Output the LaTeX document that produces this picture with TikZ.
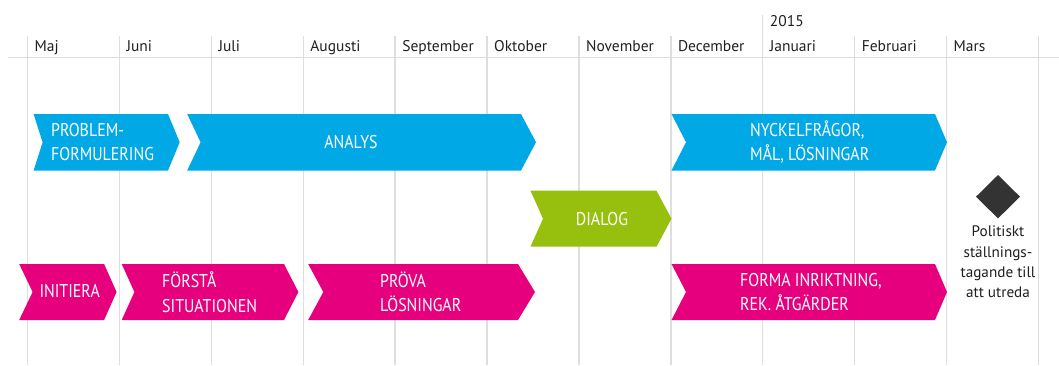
\documentclass[tikz,border=0pt]{standalone}
\usepackage{fontspec}
\setmainfont{PT Sans}
\newfontfamily\condfont[FakeStretch=0.86]{PT Sans}
\definecolor{cblue}{RGB}{0,168,230}
\definecolor{cpink}{RGB}{230,0,126}
\definecolor{cgreen}{RGB}{151,192,14}
\definecolor{cgrid}{RGB}{222,222,222}
\definecolor{cdark}{RGB}{51,51,51}
\definecolor{ctext}{RGB}{35,31,32}
\tikzset{
  gridline/.style={draw=cgrid, line width=1.4pt},
  month/.style={anchor=base west, inner sep=0pt, text=ctext, font=\fontsize{15.5}{17}\selectfont},
  boxlabel/.style={inner sep=0pt, text=white, align=left, font=\condfont\fontsize{18.5}{24.5}\selectfont},
  milestone/.style={inner sep=0pt, text=ctext, align=center, font=\fontsize{15.2}{20.3}\selectfont},
}
% chevron: #1 left x, #2 notch x, #3 right-top x, #4 tip x, #5 top y, #6 bottom y, #7 colour
\newcommand\mychevron[7]{%
  \fill[#7] (#1,#5) -- (#3,#5) -- (#4,{(#5+#6)/2}) -- (#3,#6) -- (#1,#6) -- (#2,{(#5+#6)/2}) -- cycle;}
\begin{document}
\begin{tikzpicture}[x=1pt,y=-1pt]
\useasboundingbox (0,0) rectangle (1059,365);
\fill[white] (0,0) rectangle (1059,365);
% grid
\foreach \i in {0,...,11}{
  \draw[gridline] ({27.5+91.9*\i},36) -- ({27.5+91.9*\i},365);
}
\draw[gridline] ({27.5+91.9*8},15) -- ({27.5+91.9*8},36);
\draw[gridline] (8,57.3) -- (1059,57.3);
% months
\foreach \m [count=\i from 0] in {Maj,Juni,Juli,Augusti,September,Oktober,November,December,Januari,Februari,Mars}{
  \node[month] (m\i) at ({27.5+91.9*\i+7},51) {\m};
}
\node[month] (year) at ({27.5+91.9*8+7},26.5) {2015};
% blue row
\mychevron{33.6}{42.6}{168}{179.7}{114}{170.5}{cblue}
\mychevron{187.2}{200.6}{521}{536}{114}{170.5}{cblue}
\mychevron{671.5}{686}{935}{947}{114}{170.5}{cblue}
\node[boxlabel, anchor=west] (prob) at (51,142) {PROBLEM-\\FORMULERING};
\node[boxlabel] (analys) at (351,142) {ANALYS};
\node[boxlabel, anchor=west] (nyckel) at (750,142) {NYCKELFRÅGOR,\\MÅL, LÖSNINGAR};
% green
\mychevron{530.5}{543}{656.5}{671.5}{190.7}{246.7}{cgreen}
\node[boxlabel] (dialog) at (602,218.7) {DIALOG};
% pink row
\mychevron{19.2}{32.6}{104.1}{116.6}{264}{320}{cpink}
\mychevron{121.7}{134.4}{284}{298.4}{264}{320}{cpink}
\mychevron{308.2}{323.3}{518}{535}{264}{320}{cpink}
\mychevron{671.5}{686}{935}{947}{264}{320}{cpink}
\node[boxlabel, anchor=west] (init) at (39.3,291.5) {INITIERA};
\node[boxlabel, anchor=west] (forsta) at (162,292) {FÖRSTÅ\\SITUATIONEN};
\node[boxlabel, anchor=west] (prova) at (380,292) {PRÖVA\\LÖSNINGAR};
\node[boxlabel, anchor=west] (forma) at (740,292) {FORMA INRIKTNING,\\REK. ÅTGÄRDER};
% milestone
\fill[cdark] (998,175) -- (1020,196.7) -- (998,218.4) -- (976,196.7) -- cycle;
\node[milestone, anchor=north] (pol) at (998,226) {Politiskt\\ställnings-\\tagande till\\att utreda};
\end{tikzpicture}
\end{document}
